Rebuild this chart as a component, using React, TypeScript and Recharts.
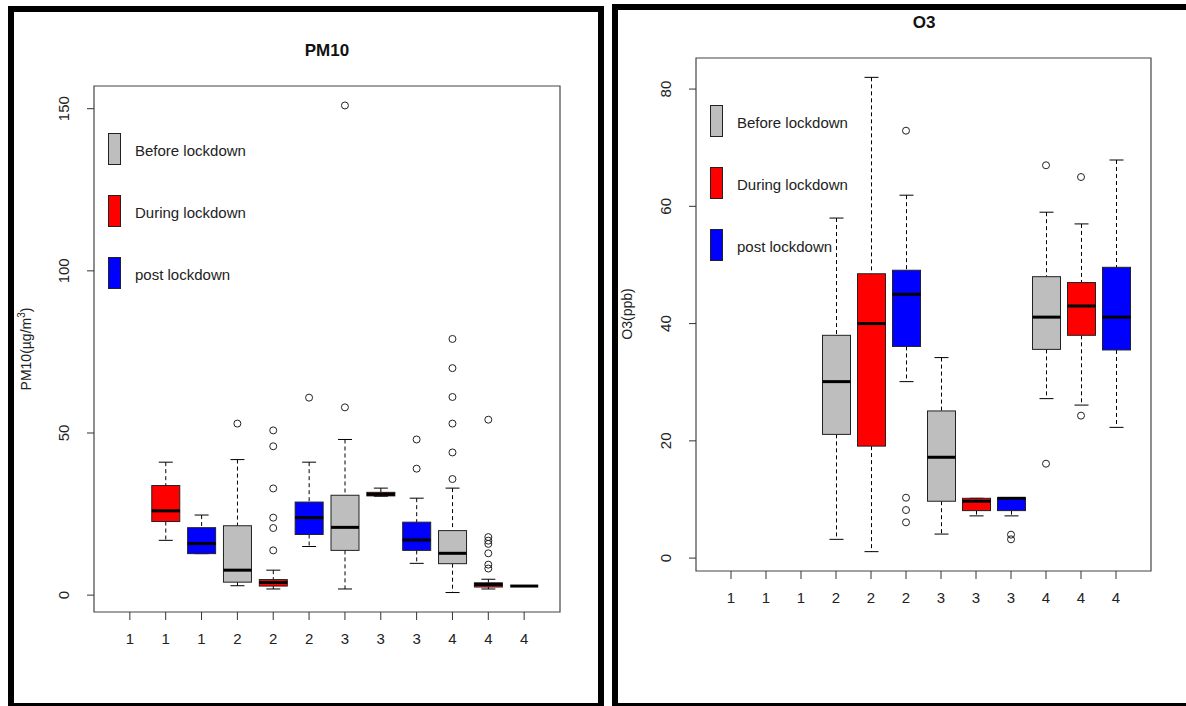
import { ComposedChart, Bar, Scatter, XAxis, YAxis, ReferenceArea, Legend } from 'recharts'

const FONT = '"Liberation Sans", Arial, sans-serif'

// box positions 1..12, three periods per group
const boxPositions = [1, 2, 3, 4, 5, 6, 7, 8, 9, 10, 11, 12]
const groupLabels = ['1', '1', '1', '2', '2', '2', '3', '3', '3', '4', '4', '4']
const periodNames = ['Before lockdown', 'During lockdown', 'post lockdown']
const periodColors = ['#BEBEBE', '#FF0000', '#0000FF']

// PM10 (µg/m3) box stats, null = no data
const pmLow = [null, 16.9, 12.8, 2.9, 1.9, 15.0, 1.9, 30.5, 9.8, 0.8, 1.9, 2.8]
const pmQ1 = [null, 22.7, 12.8, 4.0, 2.8, 18.7, 13.8, 30.6, 13.8, 9.7, 2.5, 2.8]
const pmMedian = [null, 26.0, 15.9, 7.7, 3.9, 23.9, 20.9, 31.1, 17.0, 12.9, 3.3, 2.8]
const pmQ3 = [null, 33.8, 20.8, 21.4, 4.8, 28.7, 30.8, 31.7, 22.5, 19.9, 3.8, 2.8]
const pmHigh = [null, 41.0, 24.7, 41.8, 7.7, 41.0, 48.0, 33.0, 29.9, 33.0, 4.9, 2.8]
const pmOutliers: [number, number][] = [
  [4, 52.9],
  [5, 50.8], [5, 45.9], [5, 32.9], [5, 23.9], [5, 20.7], [5, 13.8],
  [6, 60.9],
  [7, 151.0], [7, 57.9],
  [9, 48.0], [9, 39.0],
  [10, 79.0], [10, 70.0], [10, 61.1], [10, 52.9], [10, 44.0], [10, 35.8],
  [11, 54.1], [11, 17.9], [11, 16.8], [11, 15.8], [11, 12.9], [11, 9.4], [11, 8.2],
]
const pmTicks = [0, 50, 100, 150]

// O3 (ppb) box stats
const o3Low = [null, null, null, 3.2, 1.1, 30.1, 4.1, 7.2, 7.2, 27.2, 26.1, 22.3]
const o3Q1 = [null, null, null, 21.1, 19.1, 36.1, 9.7, 8.1, 8.1, 35.6, 38.0, 35.5]
const o3Median = [null, null, null, 30.1, 40.0, 45.0, 17.2, 9.7, 10.2, 41.1, 43.0, 41.1]
const o3Q3 = [null, null, null, 38.0, 48.5, 49.1, 25.1, 10.2, 10.3, 48.0, 47.0, 49.6]
const o3High = [null, null, null, 58.0, 82.0, 61.9, 34.2, 10.2, 10.3, 59.0, 57.0, 67.9]
const o3Outliers: [number, number][] = [
  [6, 72.9], [6, 10.3], [6, 8.2], [6, 6.1],
  [9, 4.0], [9, 3.2],
  [10, 67.0], [10, 16.1],
  [11, 65.0], [11, 24.3],
]
const o3Ticks = [0, 20, 40, 60, 80]

type Box = { pos: number; lo: number; q1: number; med: number; q3: number; hi: number; color: string }

const buildBoxes = (lo: (number | null)[], q1: (number | null)[], med: (number | null)[], q3: (number | null)[], hi: (number | null)[]) =>
  boxPositions
    .map((pos, i) => ({ pos, lo: lo[i], q1: q1[i], med: med[i], q3: q3[i], hi: hi[i], color: periodColors[i % 3] }))
    .filter((d) => d.lo !== null) as Box[]

const buildOutliers = (list: [number, number][]) => list.map(([pos, v]) => ({ pos, v }))

// R-style box: whiskers dashed, caps solid, thick median
const BoxShape = (props: any) => {
  const { x, y, width, height, payload } = props
  const { lo, q1, med, q3, hi, color } = payload as Box
  const top = Math.min(y, y + height)
  const bottom = Math.max(y, y + height)
  const span = hi - lo
  const py = (v: number) => (span > 0 ? bottom - ((v - lo) / span) * (bottom - top) : top)
  const cx = x + width / 2
  const cap = width / 4
  return (
    <g>
      <line x1={cx} x2={cx} y1={py(hi)} y2={py(q3)} stroke="#000" strokeDasharray="4 3" />
      <line x1={cx} x2={cx} y1={py(q1)} y2={py(lo)} stroke="#000" strokeDasharray="4 3" />
      <line x1={cx - cap} x2={cx + cap} y1={py(hi)} y2={py(hi)} stroke="#000" />
      <line x1={cx - cap} x2={cx + cap} y1={py(lo)} y2={py(lo)} stroke="#000" />
      <rect x={x} y={py(q3)} width={width} height={Math.max(py(q1) - py(q3), 0)} fill={color} stroke="#222" />
      <line x1={x} x2={x + width} y1={py(med)} y2={py(med)} stroke="#000" strokeWidth={3} />
    </g>
  )
}

const OutlierDot = (props: any) => <circle cx={props.cx} cy={props.cy} r={3.5} fill="none" stroke="#222" />

const RotatedTick = (props: any) => {
  const { x, y, payload } = props
  const cx = x - 21
  return (
    <text x={cx} y={y} transform={`rotate(-90 ${cx} ${y})`} textAnchor="middle" dominantBaseline="central" fontSize={15} fill="#222" fontFamily={FONT}>
      {payload.value}
    </text>
  )
}

const GroupTick = (props: any) => {
  const { x, y, payload } = props
  return (
    <text x={x} y={y + 9} textAnchor="middle" dominantBaseline="central" fontSize={15} fill="#222" fontFamily={FONT}>
      {groupLabels[payload.value - 1]}
    </text>
  )
}

const PeriodLegend = () => (
  <svg width={220} height={160}>
    {periodNames.map((name, i) => (
      <g key={name}>
        <rect x={0.5} y={i * 62 + 0.5} width={12} height={31} fill={periodColors[i]} stroke="#222" />
        <text x={27} y={i * 62 + 17} dominantBaseline="central" fontSize={15} fill="#222" fontFamily={FONT}>
          {name}
        </text>
      </g>
    ))}
  </svg>
)

type PanelProps = {
  boxes: Box[]
  outliers: { pos: number; v: number }[]
  domain: [number, number]
  ticks: number[]
  margin: { top: number; right: number; bottom: number; left: number }
  legendPos: { left: number; top: number }
}

const BoxPanel = ({ boxes, outliers, domain, ticks, margin, legendPos }: PanelProps) => (
  <div style={{ position: 'absolute', left: 0, top: 0 }}>
    <ComposedChart width={1186} height={706} data={boxes} margin={margin}>
      <XAxis
        type="number"
        dataKey="pos"
        domain={[0, 13]}
        ticks={boxPositions}
        interval={0}
        axisLine={false}
        tickSize={8}
        tickMargin={9}
        height={40}
        tick={<GroupTick />}
        tickLine={{ stroke: '#333' }}
      />
      <YAxis
        type="number"
        domain={domain}
        ticks={ticks}
        interval={0}
        width={50}
        tickSize={7}
        axisLine={false}
        tickLine={{ stroke: '#333' }}
        tick={<RotatedTick />}
      />
      <ReferenceArea x1={0} x2={13} y1={domain[0]} y2={domain[1]} fill="none" stroke="#444" strokeWidth={1.2} ifOverflow="visible" />
      <Bar dataKey={(d: Box) => [d.lo, d.hi]} barSize={28} shape={<BoxShape />} isAnimationActive={false} />
      <Scatter data={outliers} dataKey="v" shape={<OutlierDot />} isAnimationActive={false} />
      <Legend
        layout="vertical"
        align="center"
        verticalAlign="middle"
        wrapperStyle={{ left: legendPos.left, top: legendPos.top, width: 220 }}
        content={() => <PeriodLegend />}
      />
    </ComposedChart>
  </div>
)

export default function App() {
  return (
    <div style={{ position: 'absolute', left: 0, top: 0, width: 1186, height: 706, overflow: 'hidden', background: '#fff', fontFamily: FONT }}>
      <BoxPanel
        boxes={buildBoxes(pmLow, pmQ1, pmMedian, pmQ3, pmHigh)}
        outliers={buildOutliers(pmOutliers)}
        domain={[-5.2, 157]}
        ticks={pmTicks}
        margin={{ top: 86, right: 626, bottom: 54, left: 44 }}
        legendPos={{ left: 108, top: 133 }}
      />
      <BoxPanel
        boxes={buildBoxes(o3Low, o3Q1, o3Median, o3Q3, o3High)}
        outliers={buildOutliers(o3Outliers)}
        domain={[-2.2, 85.3]}
        ticks={o3Ticks}
        margin={{ top: 58, right: 35, bottom: 95, left: 646 }}
        legendPos={{ left: 710, top: 105 }}
      />
      <svg width={1186} height={706} style={{ position: 'absolute', left: 0, top: 0, pointerEvents: 'none' }}>
        <text x={327} y={50} textAnchor="middle" dominantBaseline="central" fontSize={17} fontWeight="bold" fill="#111" fontFamily={FONT}>
          PM10
        </text>
        <text x={924} y={22} textAnchor="middle" dominantBaseline="central" fontSize={17} fontWeight="bold" fill="#111" fontFamily={FONT}>
          O3
        </text>
        <text x={26} y={349} transform="rotate(-90 26 349)" textAnchor="middle" dominantBaseline="central" fontSize={14} fill="#222" fontFamily={FONT}>
          PM10(µg/m<tspan dy={-5} fontSize={10}>3</tspan>
          <tspan dy={5}>)</tspan>
        </text>
        <text x={627} y={314} transform="rotate(-90 627 314)" textAnchor="middle" dominantBaseline="central" fontSize={14} fill="#222" fontFamily={FONT}>
          O3(ppb)
        </text>
      </svg>
      <div style={{ position: 'absolute', left: 8, top: 6, width: 596, height: 703, border: '6px solid #000', boxSizing: 'border-box', pointerEvents: 'none' }} />
      <div style={{ position: 'absolute', left: 612, top: 4, width: 600, height: 705, border: '6px solid #000', boxSizing: 'border-box', pointerEvents: 'none' }} />
    </div>
  )
}
